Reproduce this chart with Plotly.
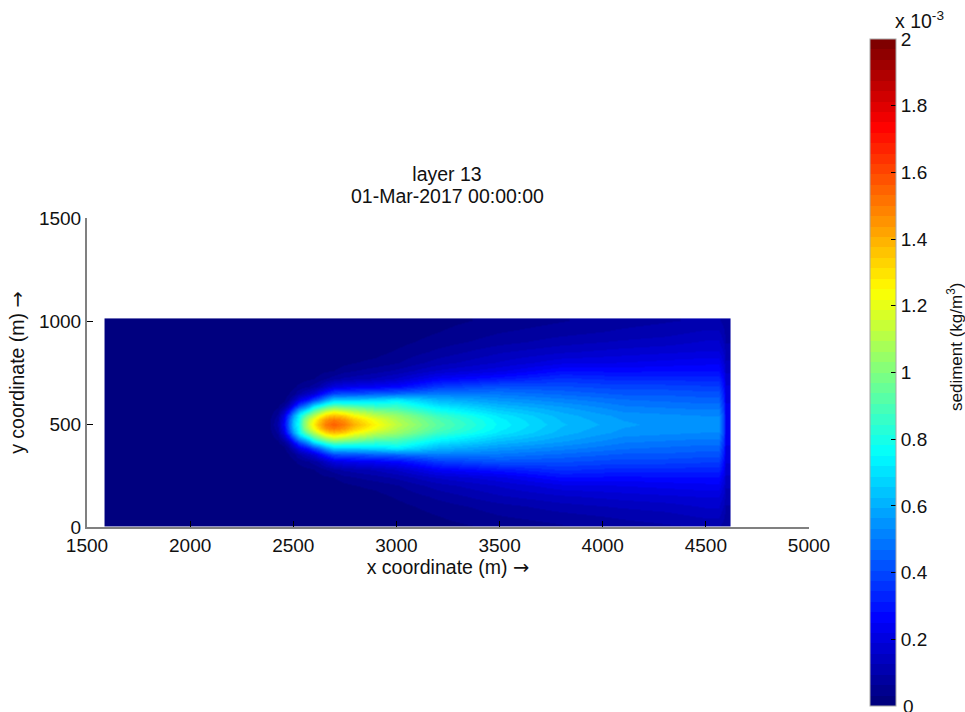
import numpy as np
import plotly.graph_objects as go

x_coord = [1590, 1600, 2250, 2385, 2425, 2452, 2476, 2500, 2524, 2548, 2573, 2597, 2621, 2654, 2695, 2743, 2792,
           2900, 3000, 3200, 3500, 3800, 4100, 4300, 4500, 4560, 4585, 4595, 4610]
y_coord = [1010, 1005, 950, 900, 850, 800, 760, 720, 680, 650, 620, 600, 580, 560, 540, 520, 500,
           480, 460, 440, 420, 400, 380, 350, 320, 280, 240, 200, 150, 100, 50, 10, 5]

# sediment values (x 10^-3 kg/m3), one list per x coordinate, top row first
c1590 = [0.0] * 33
c1600 = [0.0] * 33
c2250 = [0.0] * 33
c2400 = [0,0,0,0,0,0,0,0,0,0,0,.005,.01,.015,.02,.025,.03,.025,.02,.015,.01,.005,0,0,0,0,0,0,0,0,0,0,0]
c2440 = [0,0,0,0,0,0,0,0,0,.005,.01,.02,.03,.05,.07,.09,.10,.09,.07,.05,.03,.02,.01,.005,0,0,0,0,0,0,0,0,0]
c2467 = [0,0,0,0,0,0,0,0,.005,.01,.02,.04,.08,.14,.20,.23,.25,.23,.20,.14,.08,.04,.02,.01,.005,0,0,0,0,0,0,0,0]
c2491 = [0,0,0,0,0,0,0,.005,.015,.03,.06,.10,.17,.28,.38,.43,.45,.43,.38,.28,.17,.10,.06,.03,.015,.005,0,0,0,0,0,0,0]
c2515 = [0,0,0,0,0,0,.002,.01,.025,.05,.12,.20,.32,.45,.57,.63,.65,.63,.57,.45,.32,.20,.12,.05,.025,.01,.002,0,0,0,0,0,0]
c2539 = [0,0,0,0,0,0,.005,.015,.04,.09,.20,.32,.46,.62,.72,.76,.78,.76,.72,.62,.46,.32,.20,.09,.04,.015,.005,0,0,0,0,0,0]
c2563 = [0,0,0,0,0,.002,.008,.02,.05,.12,.25,.38,.54,.72,.88,.97,1.0,.97,.88,.72,.54,.38,.25,.12,.05,.02,.008,.002,0,0,0,0,0]
c2588 = [0,0,0,0,0,.003,.01,.025,.06,.15,.30,.47,.63,.83,1.0,1.11,1.15,1.11,1.0,.83,.63,.47,.30,.15,.06,.025,.01,.003,0,0,0,0,0]
c2612 = [0,0,0,0,.001,.005,.015,.03,.08,.18,.38,.58,.78,.95,1.10,1.22,1.27,1.22,1.10,.95,.78,.58,.38,.18,.08,.03,.015,.005,.001,0,0,0,0]
c2636 = [0,0,0,0,.002,.006,.02,.04,.10,.24,.44,.64,.85,1.03,1.20,1.33,1.38,1.33,1.20,1.03,.85,.64,.44,.24,.10,.04,.02,.006,.002,0,0,0,0]
c2669 = [0,0,0,0,.003,.008,.025,.06,.15,.32,.55,.74,.95,1.15,1.33,1.45,1.50,1.45,1.33,1.15,.95,.74,.55,.32,.15,.06,.025,.008,.003,0,0,0,0]
c2710 = [0,0,0,0,.005,.012,.03,.08,.20,.40,.65,.82,1.03,1.22,1.38,1.50,1.56,1.50,1.38,1.22,1.03,.82,.65,.40,.20,.08,.03,.012,.005,0,0,0,0]
c2758 = [0,0,0,.003,.009,.02,.05,.10,.22,.41,.65,.81,1.0,1.18,1.34,1.45,1.50,1.45,1.34,1.18,1.0,.81,.65,.41,.22,.10,.05,.02,.009,.003,0,0,0]
c2807 = [0,0,.001,.005,.015,.03,.06,.11,.23,.42,.65,.80,.97,1.12,1.25,1.35,1.40,1.35,1.25,1.12,.97,.80,.65,.42,.23,.11,.06,.03,.015,.005,.001,0,0]
c2900 = [.002,.002,.004,.01,.02,.04,.08,.13,.25,.44,.67,.78,.90,1.02,1.12,1.21,1.25,1.21,1.12,1.02,.90,.78,.67,.44,.25,.13,.08,.04,.02,.01,.004,.002,.002]
c3000 = [.005,.005,.01,.02,.035,.06,.10,.16,.27,.46,.71,.81,.88,.97,1.05,1.09,1.12,1.09,1.05,.97,.88,.81,.71,.46,.27,.16,.10,.06,.035,.02,.01,.005,.005]
c3200 = [.02,.02,.03,.045,.07,.11,.16,.25,.37,.50,.61,.67,.74,.80,.87,.91,.93,.91,.87,.80,.74,.67,.61,.50,.37,.25,.16,.11,.07,.045,.03,.02,.02]
c3500 = [.04,.04,.06,.08,.12,.16,.21,.30,.42,.49,.55,.59,.63,.67,.71,.73,.74,.73,.71,.67,.63,.59,.55,.49,.42,.30,.21,.16,.12,.08,.06,.04,.04]
c3800 = [.06,.06,.08,.11,.15,.21,.28,.35,.41,.46,.51,.54,.57,.59,.61,.62,.63,.62,.61,.59,.57,.54,.51,.46,.41,.35,.28,.21,.15,.11,.08,.06,.06]
c4100 = [.08,.08,.10,.13,.17,.22,.27,.33,.39,.43,.47,.49,.51,.53,.55,.56,.57,.56,.55,.53,.51,.49,.47,.43,.39,.33,.27,.22,.17,.13,.10,.08,.08]
c4300 = [.09,.09,.11,.14,.18,.23,.28,.33,.39,.43,.46,.48,.50,.52,.54,.55,.55,.55,.54,.52,.50,.48,.46,.43,.39,.33,.28,.23,.18,.14,.11,.09,.09]
c4500 = [.10,.10,.13,.16,.19,.24,.28,.33,.38,.42,.45,.47,.49,.51,.53,.54,.54,.54,.53,.51,.49,.47,.45,.42,.38,.33,.28,.24,.19,.16,.13,.10,.10]
c4560 = [.10,.10,.13,.16,.19,.24,.28,.33,.38,.42,.45,.47,.49,.51,.53,.54,.54,.54,.53,.51,.49,.47,.45,.42,.38,.33,.28,.24,.19,.16,.13,.10,.10]
c4585 = [.08,.08,.10,.12,.15,.18,.21,.25,.28,.31,.33,.35,.36,.38,.39,.40,.40,.40,.39,.38,.36,.35,.33,.31,.28,.25,.21,.18,.15,.12,.10,.08,.08]
c4595 = [.07,.07,.08,.09,.11,.13,.15,.17,.19,.20,.21,.22,.23,.23,.24,.24,.24,.24,.24,.23,.23,.22,.21,.20,.19,.17,.15,.13,.11,.09,.08,.07,.07]
c4610 = [.07,.07,.08,.09,.11,.13,.15,.17,.19,.20,.21,.22,.23,.23,.24,.24,.24,.24,.24,.23,.23,.22,.21,.20,.19,.17,.15,.13,.11,.09,.08,.07,.07]

columns = [c1590, c1600, c2250, c2400, c2440, c2467, c2491, c2515, c2539, c2563, c2588, c2612, c2636, c2669, c2710,
           c2758, c2807, c2900, c3000, c3200, c3500, c3800, c4100, c4300, c4500, c4560, c4585, c4595, c4610]

x_ticks = [1500, 2000, 2500, 3000, 3500, 4000, 4500, 5000]
y_ticks = [0, 500, 1000, 1500]
cb_ticks = [0.2, 0.4, 0.6, 0.8, 1, 1.2, 1.4, 1.6, 1.8, 2]
cb_labels = ["0.2", "0.4", "0.6", "0.8", "1", "1.2", "1.4", "1.6", "1.8", "2"]

W, H = 965, 712
FONT = "Liberation Sans"
FS = 19.5
TICK_FS = 19
INK = "#111"
ARROW = "<span style='font-family:DejaVu Sans'>→</span>"


def jet(t):
    r = np.clip(min(4 * t - 1.5, -4 * t + 4.5), 0, 1)
    g = np.clip(min(4 * t - 0.5, -4 * t + 3.5), 0, 1)
    b = np.clip(min(4 * t + 0.5, -4 * t + 2.5), 0, 1)
    return f"rgb({int(r * 255)},{int(g * 255)},{int(b * 255)})"


N = 64
scale = []
for i in range(N):
    col = jet(i / (N - 1))
    scale.append([i / N, col])
    scale.append([(i + 1) / N, col])

z = np.array(columns, dtype=float).T

fig = go.Figure(go.Heatmap(
    x=x_coord, y=y_coord, z=z, zmin=0, zmax=2, zsmooth="best", colorscale=scale,
    hoverinfo="skip",
    colorbar=dict(
        x=870 / W, xanchor="left", xpad=0, thickness=26, thicknessmode="pixels",
        y=1 - 39 / H, yanchor="top", ypad=0, len=667, lenmode="pixels",
        tickmode="array", tickvals=cb_ticks, ticktext=cb_labels, ticks="inside", ticklen=5,
        tickcolor="black", tickwidth=1, outlinecolor="#a8a8a8", outlinewidth=1,
        tickfont=dict(family=FONT, size=TICK_FS, color=INK),
    ),
))

# left-hand colour bar tick marks, as in the original
bar_bottom, bar_h = 706, 667
shapes = []
for t in cb_ticks[:-1]:
    yp = bar_bottom - t / 2 * bar_h
    shapes.append(dict(type="line", xref="paper", yref="paper", x0=870 / W, x1=875 / W,
                       y0=1 - yp / H, y1=1 - yp / H, line=dict(color="black", width=1)))

fig.update_layout(
    width=W, height=H, paper_bgcolor="white", plot_bgcolor="white",
    margin=dict(l=0, r=0, t=0, b=0, autoexpand=False),
    font=dict(family=FONT, size=TICK_FS, color=INK),
    title=dict(text="layer 13", x=447 / W, xanchor="center", xref="paper",
               y=1 - 174 / H, yanchor="middle", yref="paper", font=dict(family=FONT, size=FS, color=INK)),
    shapes=shapes,
    annotations=[
        dict(text="01-Mar-2017 00:00:00", xref="paper", yref="paper", x=447 / W, y=1 - 196 / H, xanchor="center",
             yanchor="middle", showarrow=False, font=dict(family=FONT, size=FS, color=INK)),
        dict(text="x 10<sup>-3</sup>", xref="paper", yref="paper", x=893 / W, y=1 - 34 / H, xanchor="left",
             yanchor="bottom", showarrow=False, font=dict(family=FONT, size=FS, color=INK)),
        dict(text="0", xref="paper", yref="paper", x=901 / W, y=1 - 706 / H, xanchor="left",
             yanchor="middle", showarrow=False, font=dict(family=FONT, size=TICK_FS, color=INK)),
        dict(text="sediment (kg/m<sup>3</sup>)", xref="paper", yref="paper", x=955 / W, y=1 - 347 / H,
             xanchor="center", yanchor="middle", textangle=-90, showarrow=False,
             font=dict(family=FONT, size=17, color=INK)),
    ],
)
fig.update_xaxes(
    domain=[87 / W, 809 / W], range=[1500, 5000], tickmode="array", tickvals=x_ticks,
    ticks="inside", ticklen=6, tickcolor="black", tickwidth=1, showline=True, linecolor="#808080", linewidth=2,
    showgrid=False, zeroline=False, ticklabelstandoff=0,
    title=dict(text="x coordinate (m) " + ARROW, standoff=6, font=dict(family=FONT, size=FS, color=INK)),
)
fig.update_yaxes(
    domain=[1 - 527 / H, 1 - 218 / H], range=[0, 1500], tickmode="array", tickvals=y_ticks,
    ticks="inside", ticklen=6, tickcolor="black", tickwidth=1, showline=True, linecolor="#808080", linewidth=2,
    showgrid=False, zeroline=False,
    title=dict(text="y coordinate (m) " + ARROW, standoff=9, font=dict(family=FONT, size=FS, color=INK)),
)

fig.write_html("out.html", config={"displayModeBar": False},
               post_script="document.body.style.margin='0';document.body.style.overflow='hidden';")
